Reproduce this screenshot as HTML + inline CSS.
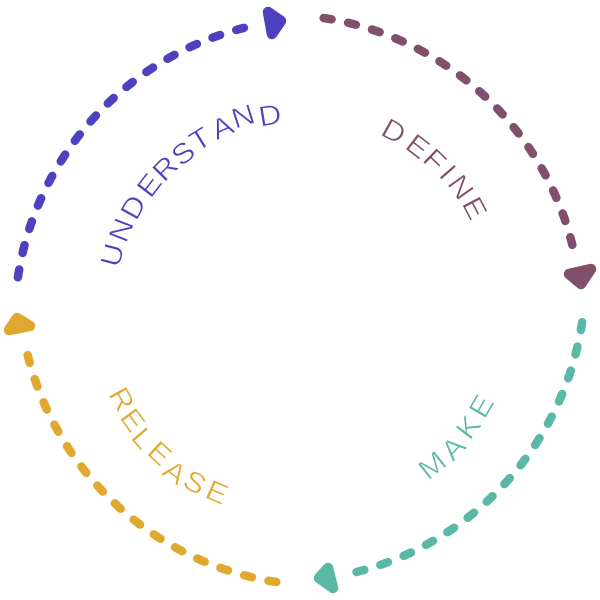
<!DOCTYPE html>
<html><head><meta charset="utf-8"><style>
html,body{margin:0;padding:0;background:#fff}
svg{display:block}
text{font-family:"Liberation Sans",sans-serif;font-size:28.5px;text-anchor:middle;stroke:#fff;stroke-width:.55px;paint-order:fill stroke}
</style></head><body>
<svg width="600" height="600" viewBox="0 0 600 600" xmlns="http://www.w3.org/2000/svg">
<g fill="none" stroke-width="8.5" stroke-linecap="round" stroke-dasharray="8 16.9">
<path d="M300 17A304 304 0 0 1 567.6 224.8" stroke="#7f4f6c" transform="rotate(4.8 300 300)"/>
<path d="M300 17A304 304 0 0 1 567.6 224.8" stroke="#5bb7a6" transform="rotate(94.5 300 300)"/>
<path d="M300 17A304 304 0 0 1 567.6 224.8" stroke="#e0a82e" transform="rotate(184.8 300 300)"/>
<path d="M300 17A304 304 0 0 1 567.6 224.8" stroke="#4e41c0" transform="rotate(274.6 300 300)"/>
</g>
<g stroke-width="10.5" stroke-linejoin="round">
<polygon points="268,12 281,21 272,34" fill="#4e41c0" stroke="#4e41c0"/>
<polygon points="569,274 591,269 581,284" fill="#7f4f6c" stroke="#7f4f6c"/>
<polygon points="328,568 319,578 333,588" fill="#5bb7a6" stroke="#5bb7a6"/>
<polygon points="17,318 9,330 30,326" fill="#e0a82e" stroke="#e0a82e"/>
</g>
<g fill="#4e41c0">
<text y="10" transform="translate(112 255) rotate(-75) scale(1.1 1)">U</text>
<text y="10" transform="translate(121 230) rotate(-68.6) scale(1.1 1)">N</text>
<text y="10" transform="translate(133 207) rotate(-61) scale(1.1 1)">D</text>
<text y="10" transform="translate(149 185) rotate(-52.7) scale(1.1 1)">E</text>
<text y="10" transform="translate(165 168) rotate(-45.6) scale(1.1 1)">R</text>
<text y="10" transform="translate(183 153) rotate(-38.5) scale(1.1 1)">S</text>
<text y="10" transform="translate(200 139) rotate(-31.8) scale(1.1 1)">T</text>
<text y="10" transform="translate(222 127) rotate(-24.3) scale(1.1 1)">A</text>
<text y="10" transform="translate(243 116) rotate(-17.2) scale(1.1 1)">N</text>
<text y="10" transform="translate(270 115) rotate(-9.2) scale(1.1 1)">D</text>
</g>
<g fill="#7f4f6c">
<text y="10" transform="translate(394 131) rotate(29) scale(1.1 1)">D</text>
<text y="10" transform="translate(418 146) rotate(37.5) scale(1.1 1)">E</text>
<text y="10" transform="translate(435 160) rotate(44) scale(1.1 1)">F</text>
<text y="10" transform="translate(448 172) rotate(49) scale(1.1 1)">I</text>
<text y="10" transform="translate(461 187) rotate(55) scale(1.1 1)">N</text>
<text y="10" transform="translate(475 208) rotate(62.3) scale(1.1 1)">E</text>
</g>
<g fill="#5bb7a6">
<text y="10" transform="translate(432 465) rotate(-38.7) scale(1.1 1)">M</text>
<text y="10" transform="translate(453 448) rotate(-46) scale(1.1 1)">A</text>
<text y="10" transform="translate(468 427) rotate(-53) scale(1.1 1)">K</text>
<text y="10" transform="translate(481 406) rotate(-59.6) scale(1.1 1)">E</text>
</g>
<g fill="#e0a82e">
<text y="10" transform="translate(122 399) rotate(61) scale(1.1 1)">R</text>
<text y="10" transform="translate(133 420) rotate(54) scale(1.1 1)">E</text>
<text y="10" transform="translate(143 438) rotate(48.7) scale(1.1 1)">L</text>
<text y="10" transform="translate(160 453) rotate(42.5) scale(1.1 1)">E</text>
<text y="10" transform="translate(175 472) rotate(36) scale(1.1 1)">A</text>
<text y="10" transform="translate(195 482) rotate(30) scale(1.1 1)">S</text>
<text y="10" transform="translate(217 492) rotate(23.4) scale(1.1 1)">E</text>
</g>
</svg>
</body></html>
